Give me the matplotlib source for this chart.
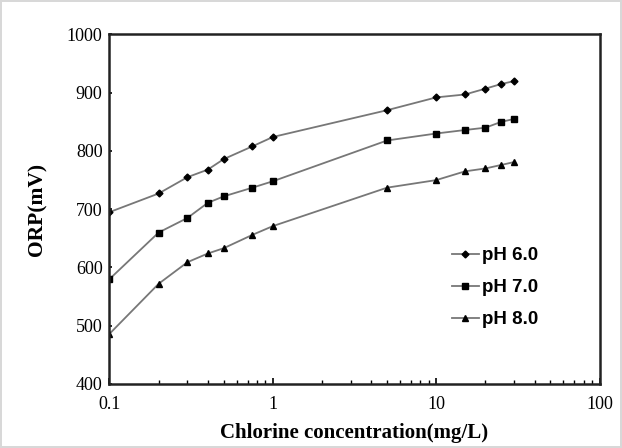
import matplotlib
matplotlib.use("Agg")
import matplotlib.pyplot as plt
from matplotlib import ticker as mtick
from matplotlib import font_manager

conc = [0.1, 0.2, 0.3, 0.4, 0.5, 0.75, 1, 5, 10, 15, 20, 25, 30]
orp_ph6 = [695, 727, 755, 768, 786, 808, 824, 870, 892, 897, 907, 915, 920]
orp_ph7 = [580, 660, 685, 711, 722, 737, 748, 818, 830, 836, 840, 850, 855]
orp_ph8 = [486, 572, 609, 624, 633, 656, 671, 737, 750, 765, 770, 776, 781]
labels = ["pH 6.0", "pH 7.0", "pH 8.0"]
yticks = [400, 500, 600, 700, 800, 900, 1000]

names = {f.name for f in font_manager.fontManager.ttflist}
legend_font = "Liberation Sans Narrow" if "Liberation Sans Narrow" in names else "Liberation Sans"

fig = plt.figure(figsize=(6.22, 4.48), dpi=100)
fig.patch.set_edgecolor("#d8d8d8")
fig.patch.set_linewidth(1.5)
ax = fig.add_axes([0.176, 0.143, 0.788, 0.78])

line_kw = dict(color="#777777", lw=1.3, markerfacecolor="black", markeredgecolor="black")
ax.plot(conc, orp_ph6, marker="D", ms=3.5, label=labels[0], **line_kw)
ax.plot(conc, orp_ph7, marker="s", ms=5, label=labels[1], **line_kw)
ax.plot(conc, orp_ph8, marker="^", ms=4, label=labels[2], **line_kw)

ax.set_xscale("log")
ax.set_xlim(0.1, 100)
ax.set_ylim(400, 1000)
ax.set_yticks(yticks)
ax.xaxis.set_major_formatter(mtick.FuncFormatter(lambda v, p: "%g" % v))
ax.xaxis.set_minor_formatter(mtick.NullFormatter())

for s in ax.spines.values():
    s.set_linewidth(1.8)
    s.set_color("#222222")

ax.tick_params(axis="x", which="major", direction="in", length=4, width=1.2, pad=9)
ax.tick_params(axis="x", which="minor", direction="in", length=3, width=1.0)
ax.tick_params(axis="y", which="major", direction="in", length=2, width=1.2, pad=5)
for lab in ax.get_xticklabels() + ax.get_yticklabels():
    lab.set_fontfamily("Liberation Serif")
    lab.set_fontsize(13)

ax.set_xlabel("Chlorine concentration(mg/L)", fontfamily="Liberation Serif",
              fontweight="bold", fontsize=15, labelpad=7)
ax.set_ylabel("ORP(mV)", fontfamily="Liberation Serif",
              fontweight="bold", fontsize=15.5, labelpad=14)

leg = ax.legend(loc="upper left", bbox_to_anchor=(0.665, 0.44), frameon=False,
                handlelength=1.4, handletextpad=0.2, labelspacing=0.8,
                prop={"family": legend_font, "weight": "bold", "size": 13.5})

fig.savefig("out.png", dpi=100)
